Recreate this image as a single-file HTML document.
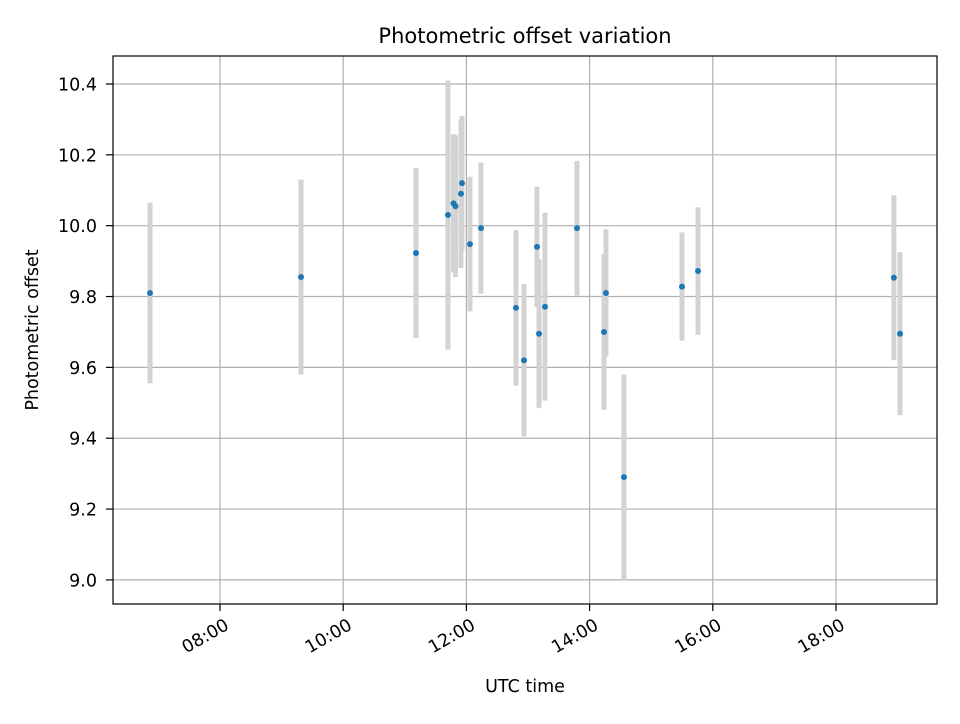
<!DOCTYPE html>
<html><head><meta charset="utf-8"><style>
body{margin:0;background:#fff;font-family:"DejaVu Sans","Liberation Sans",sans-serif}
</style></head><body>
<svg id="chart" width="960" height="720" xmlns="http://www.w3.org/2000/svg" font-family="'DejaVu Sans','Liberation Sans',sans-serif">
<rect width="960" height="720" fill="#fff"/>
<g id="grid"></g><g id="bars"></g><g id="pts"></g><g id="ticks"></g>
<rect x="113" y="56" width="824" height="548" fill="none" stroke="#000" stroke-width="1.2"/>
<text x="525" y="43" text-anchor="middle" font-size="21">Photometric offset variation</text>
<text x="525" y="692" text-anchor="middle" font-size="17.5">UTC time</text>
<text x="38" y="330" text-anchor="middle" font-size="17.5" transform="rotate(-90 38 330)">Photometric offset</text>
</svg>
<script>
const times=[6.864,9.315,11.182,11.701,11.791,11.823,11.912,11.929,12.058,12.237,12.805,12.935,13.146,13.179,13.276,13.795,14.234,14.266,14.558,15.5,15.76,18.94,19.04];
const offsets=[9.81,9.855,9.923,10.03,10.063,10.055,10.09,10.12,9.948,9.993,9.768,9.62,9.94,9.695,9.771,9.993,9.70,9.81,9.29,9.828,9.872,9.853,9.695];
const errors=[0.255,0.275,0.24,0.38,0.195,0.2,0.21,0.19,0.19,0.185,0.22,0.215,0.17,0.21,0.265,0.19,0.22,0.18,0.29,0.153,0.18,0.233,0.23];
const yTicks=[9.0,9.2,9.4,9.6,9.8,10.0,10.2,10.4];
const xTicks=[8,10,12,14,16,18];
const xTickLabels=["08:00","10:00","12:00","14:00","16:00","18:00"];
const X0=113,X1=937,Y0=604,Y1=56,xmin=6.263,xmax=19.64,ymin=8.932,ymax=10.479;
const sx=t=>X0+(t-xmin)/(xmax-xmin)*(X1-X0);
const sy=v=>Y0-(v-ymin)/(ymax-ymin)*(Y0-Y1);
const NS="http://www.w3.org/2000/svg";
function mk(tag,attrs,parent){const e=document.createElementNS(NS,tag);for(const k in attrs)e.setAttribute(k,attrs[k]);document.getElementById(parent).appendChild(e);return e;}
yTicks.forEach(v=>{
 const y=sy(v);
 const g=mk('line',{x1:X0,x2:X1,y1:y,y2:y,stroke:'#b0b0b0','stroke-width':1.2},'grid');
 
 
 const tk=mk('line',{x1:X0-7,x2:X0,y1:y,y2:y,stroke:'#000','stroke-width':1.2},'ticks');
 
 
 const t=mk('text',{x:X0-16,y:y+6.5,'text-anchor':'end','font-size':17.5},'ticks');
 
 
 t.textContent=v.toFixed(1);
});
xTicks.forEach((h,i)=>{
 const x=sx(h);
 const g=mk('line',{x1:x,x2:x,y1:Y1,y2:Y0,stroke:'#b0b0b0','stroke-width':1.2},'grid');
 
 
 const tk=mk('line',{x1:x,x2:x,y1:Y0,y2:Y0+7,stroke:'#000','stroke-width':1.2},'ticks');
 
 
 const t=mk('text',{x:x+4,y:Y0+26,'text-anchor':'end','font-size':17.5,transform:`rotate(-30 ${x+4} ${Y0+14})`},'ticks');
 
 
 t.textContent=xTickLabels[i];
});
times.forEach((t,i)=>{
 const x=sx(t);
 const b=mk('line',{x1:x,x2:x,y1:sy(offsets[i]+errors[i]),y2:sy(offsets[i]-errors[i]),stroke:'#d3d3d3','stroke-width':5},'bars');
 
 
});
times.forEach((t,i)=>{
 const c=mk('circle',{cx:sx(t),cy:sy(offsets[i]),r:3,fill:'#1f77b4'},'pts');
 
 
});
</script>
</body></html>
